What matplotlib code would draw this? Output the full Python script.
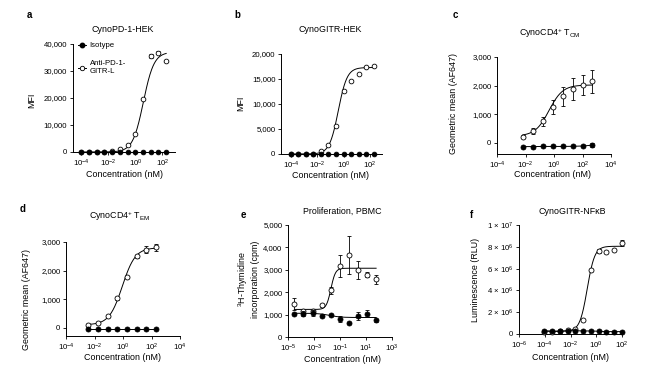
import numpy as np
import matplotlib
matplotlib.use("Agg")
import matplotlib.pyplot as plt
from matplotlib.lines import Line2D
from matplotlib.ticker import FuncFormatter, NullLocator, FixedLocator

plt.rcParams['font.family'] = ['Liberation Sans', 'DejaVu Sans']
plt.rcParams['mathtext.fontset'] = 'custom'
plt.rcParams['mathtext.rm'] = 'Liberation Sans'
plt.rcParams['mathtext.it'] = 'Liberation Sans:italic'
plt.rcParams['mathtext.default'] = 'regular'

# ---- data ----
# a / b: 12-point titration, nM
conc_ab = [0.0000955, 0.000358, 0.00134, 0.00503, 0.0189, 0.0707,
           0.265, 0.994, 3.73, 14.0, 52.5, 197.0]
a_iso = [0, 0, 0, 0, 0, 0, 0, 0, 0, 0, 0, 0]
a_anti = [50, 80, 100, 150, 300, 1000, 2500, 6800, 19600, 35500, 36800, 33700]
a_anti_err = [0, 0, 0, 0, 0, 0, 0, 0, 0, 700, 600, 0]
a_fit = dict(bottom=0, top=37000, logec=0.6, hill=1.1)

b_iso = [0, 0, 0, 0, 0, 0, 0, 0, 0, 0, 0, 0]
b_anti = [50, 60, 80, 100, 670, 1800, 5600, 12700, 14700, 16000, 17500, 17700]
b_fit = dict(bottom=0, top=17300, logec=-0.4, hill=1.3)

# c: CD4+ TCM
conc_c = [0.0064, 0.032, 0.16, 0.8, 4.0, 20.0, 100.0, 500.0]
c_anti = [210, 410, 740, 1240, 1620, 1880, 2030, 2150]
c_anti_err = [60, 100, 150, 250, 320, 380, 350, 400]
c_iso = [-140, -140, -135, -135, -135, -130, -120, -90]
c_iso_err = [0, 0, 0, 0, 0, 0, 20, 60]
c_fit = dict(bottom=230, top=2020, logec=-0.35, hill=0.9)

# d: CD4+ TEM
conc_d = [0.0035, 0.018, 0.082, 0.41, 2.0, 9.0, 44.0, 210.0]
d_anti = [90, 175, 420, 1030, 1770, 2500, 2730, 2810]
d_anti_err = [30, 30, 30, 40, 40, 60, 120, 120]
d_iso = [-20, -20, -20, -20, -20, -20, -20, -20]
d_fit = dict(bottom=110, top=2800, logec=-0.05, hill=0.95)

# e: proliferation
conc_e = [0.0000307, 0.000154, 0.000768, 0.00384, 0.0192, 0.096,
          0.48, 2.4, 12.0, 60.0]
e_anti = [1460, 1150, 1180, 1420, 2090, 3180, 3660, 2990, 2790, 2570]
e_anti_err = [260, 80, 80, 60, 150, 500, 850, 400, 100, 200]
e_iso = [1020, 1045, 1075, 925, 970, 820, 630, 940, 1045, 750]
e_iso_err = [60, 120, 120, 40, 40, 130, 40, 180, 150, 60]
e_fit = dict(bottom=1230, top=3070, logec=-1.7, hill=2.5)
e_iso_fit = dict(bottom=1060, top=870, logec=-1.8, hill=1.0)

# f: NF-kB reporter
conc_f = [0.0000954, 0.00038, 0.0015, 0.0061, 0.024, 0.098, 0.39,
          1.56, 6.25, 25.0, 100.0]
f_anti = [0.2e6, 0.22e6, 0.25e6, 0.35e6, 0.45e6, 1.3e6, 5.9e6,
          7.6e6, 7.55e6, 7.75e6, 8.35e6]
f_anti_err = [0, 0, 0, 0, 0, 0, 0, 0.2e6, 0, 0, 0.3e6]
f_iso = [0.3e6, 0.25e6, 0.25e6, 0.3e6, 0.3e6, 0.28e6, 0.28e6,
         0.25e6, 0.22e6, 0.22e6, 0.22e6]
f_fit = dict(bottom=0.25e6, top=8.05e6, logec=-0.7, hill=1.5)

W, H = 664, 381
fig = plt.figure(figsize=(W / 100, H / 100), dpi=100)


def box(l, t, r, b):
    return [l / W, 1 - b / H, (r - l) / W, (b - t) / H]


def ftxt(x, y, s, **kw):
    kw.setdefault('ha', 'center')
    kw.setdefault('va', 'center')
    fig.text(x / W, 1 - y / H, s, **kw)


def fourpl(x, p):
    lx = np.log10(x)
    return p['bottom'] + (p['top'] - p['bottom']) / (1 + 10 ** ((p['logec'] - lx) * p['hill']))


def style(ax, xlim, xticks, ylim, yticks, fmt=None):
    ax.set_xscale('log')
    ax.set_xlim(*xlim)
    ax.set_ylim(*ylim)
    ax.xaxis.set_major_locator(FixedLocator(xticks))
    ax.xaxis.set_minor_locator(NullLocator())
    ax.set_yticks(yticks)
    if fmt is None:
        ax.yaxis.set_major_formatter(FuncFormatter(lambda v, p: f'{v:,.0f}'))
    for s in ['top', 'right']:
        ax.spines[s].set_visible(False)
    for s in ['left', 'bottom']:
        ax.spines[s].set_linewidth(0.7)
    ax.tick_params(length=2.5, width=0.6, labelsize=5.6, pad=1.5)


def draw(ax, conc, anti, iso, fit, anti_err=None, iso_err=None, iso_fit=None, ms=3.2):
    xs = np.logspace(np.log10(conc[0]), np.log10(conc[-1]), 200)
    ax.plot(xs, fourpl(xs, fit), color='black', lw=0.7, zorder=2)
    ax.errorbar(conc, anti, yerr=anti_err, fmt='o', ms=ms, mfc='white', mec='black',
                mew=0.6, ecolor='black', elinewidth=0.6, capsize=1.5, capthick=0.6,
                zorder=3, clip_on=False)
    if iso_fit is None:
        ax.plot(conc, iso, color='black', lw=0.7, zorder=4, clip_on=False)
    else:
        ax.plot(xs, fourpl(xs, iso_fit), color='black', lw=0.7, zorder=4)
    ax.errorbar(conc, iso, yerr=iso_err, fmt='o', ms=ms, mfc='black', mec='black',
                mew=0.6, ecolor='black', elinewidth=0.6, capsize=1.5, capthick=0.6,
                zorder=5, clip_on=False)


# a
ax = fig.add_axes(box(72.7, 44, 175, 152))
draw(ax, conc_ab, a_anti, a_iso, a_fit, anti_err=a_anti_err, ms=3.4)
style(ax, (10 ** -4.65, 10 ** 2.95), [1e-4, 1e-2, 1, 1e2], (0, 40000),
      [0, 10000, 20000, 30000, 40000])
handles = [Line2D([], [], color='black', lw=0.7, marker='o', ms=3.2, mfc='black', mec='black'),
           Line2D([], [], color='black', lw=0.7, marker='o', ms=3.2, mfc='white', mec='black', mew=0.6)]
ax.legend(handles, ['Isotype', 'Anti-PD-1-\nGITR-L'], loc='upper left',
          bbox_to_anchor=(78 / W, 1 - 42 / H), bbox_transform=fig.transFigure,
          frameon=False, fontsize=5.6, handlelength=1.0, handletextpad=0.5,
          borderpad=0, borderaxespad=0, labelspacing=1.4)

# b
ax = fig.add_axes(box(281, 54, 382, 154))
draw(ax, conc_ab, b_anti, b_iso, b_fit, ms=3.4)
style(ax, (10 ** -4.75, 10 ** 2.92), [1e-4, 1e-2, 1, 1e2], (0, 20000),
      [0, 5000, 10000, 15000, 20000])

# c
ax = fig.add_axes(box(497, 57, 611, 154))
draw(ax, conc_c, c_anti, c_iso, c_fit, anti_err=c_anti_err, iso_err=c_iso_err, ms=3.6)
style(ax, (1e-4, 1e4), [1e-4, 1e-2, 1, 1e2, 1e4], (-400, 3000), [0, 1000, 2000, 3000])

# d
ax = fig.add_axes(box(66, 242, 180, 336))
draw(ax, conc_d, d_anti, d_iso, d_fit, anti_err=d_anti_err, ms=3.6)
style(ax, (1e-4, 1e4), [1e-4, 1e-2, 1, 1e2, 1e4], (-280, 3000), [0, 1000, 2000, 3000])

# e
ax = fig.add_axes(box(288, 225, 392, 337))
draw(ax, conc_e, e_anti, e_iso, e_fit, anti_err=e_anti_err, iso_err=e_iso_err,
     iso_fit=e_iso_fit, ms=3.6)
style(ax, (1e-5, 1e3), [1e-5, 1e-3, 1e-1, 1e1, 1e3], (0, 5000),
      [0, 1000, 2000, 3000, 4000, 5000])

# f
ax = fig.add_axes(box(519, 225, 622, 334))
draw(ax, conc_f, f_anti, f_iso, f_fit, anti_err=f_anti_err, ms=3.6)
style(ax, (1e-6, 1e2), [1e-6, 1e-4, 1e-2, 1, 1e2], (0, 1e7),
      [0, 2e6, 4e6, 6e6, 8e6, 1e7], fmt='sci')
ax.set_yticklabels(['0', '2 × 10$^{6}$', '4 × 10$^{6}$', '6 × 10$^{6}$',
                    '8 × 10$^{6}$', '1 × 10$^{7}$'])

# panel letters
for (x, y, s) in [(29, 15, 'a'), (237, 15, 'b'), (455, 15, 'c'),
                  (23, 209, 'd'), (243, 215, 'e'), (472, 215, 'f')]:
    ftxt(x, y, s, fontsize=7, fontweight='bold')

# titles
ftxt(123, 29, 'CynoPD-1-HEK', fontsize=6.4)
ftxt(330, 29, 'CynoGITR-HEK', fontsize=6.4)
ftxt(550, 33, 'CynoCD4$^{+}$ T$_{CM}$', fontsize=6.4)
ftxt(120, 216, 'CynoCD4$^{+}$ T$_{EM}$', fontsize=6.4)
ftxt(342, 211, 'Proliferation, PBMC', fontsize=6.4)
ftxt(572, 211, 'CynoGITR-NFκB', fontsize=6.4)

# y labels
ftxt(32, 100, 'MFI', fontsize=6.4, rotation=90)
ftxt(241, 103, 'MFI', fontsize=6.4, rotation=90)
ftxt(453, 103, 'Geometric mean (AF647)', fontsize=6.4, rotation=90)
ftxt(27, 299, 'Geometric mean (AF647)', fontsize=6.4, rotation=90)
ftxt(248, 279, '$^{3}$H-Thymidine\nincorporation (cpm)', fontsize=6.4, rotation=90)
ftxt(475, 280, 'Luminescence (RLU)', fontsize=6.4, rotation=90)

# x labels
for (x, y) in [(124, 174), (330, 176), (552, 174), (123, 358), (342, 360), (570, 357)]:
    ftxt(x, y, 'Concentration (nM)', fontsize=6.4)

fig.savefig('out.png', dpi=100)
